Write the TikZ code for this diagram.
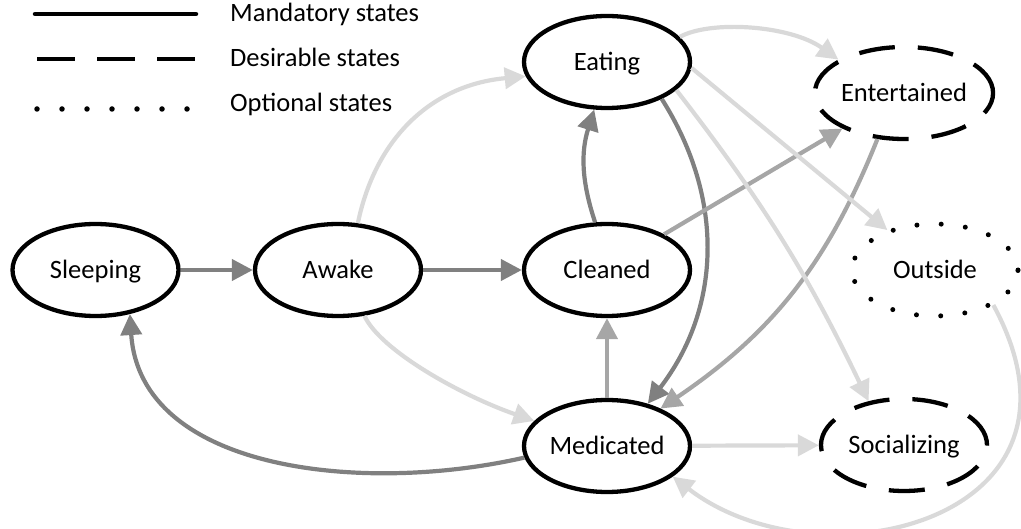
\documentclass[tikz,border=0pt]{standalone}
\usepackage{fontspec}
\setmainfont{Carlito}
\usetikzlibrary{shapes.geometric,arrows.meta}
\definecolor{cdark}{HTML}{808080}
\definecolor{cmid}{HTML}{A6A6A6}
\definecolor{clight}{HTML}{D9D9D9}
\begin{document}
\begin{tikzpicture}[x=1pt,y=1pt,
  state/.style={ellipse, draw, line width=4.3pt, minimum width=166pt, minimum height=92pt,
    inner sep=0pt, outer sep=2.15pt, font=\fontsize{26.5}{30}\selectfont,
    text height=16.7pt, text depth=0pt},
  desir/.style={state, dash pattern=on 36pt off 23pt},
  optn/.style={state, line cap=round, dash pattern=on 0pt off 24.3pt, line width=5pt},
  conn/.style={line width=4.2pt, -{Triangle[length=21pt,width=21pt]}},
  dk/.style={conn, draw=cdark},
  md/.style={conn, draw=cmid},
  lt/.style={conn, draw=clight},
  legtext/.style={anchor=base west, inner sep=0pt, font=\fontsize{26.5}{30}\selectfont}
]
\useasboundingbox (0,0) rectangle (1021,-529);

% legend
\draw[line width=4.5pt, line cap=round] (35,-14) -- (196,-14);
\draw[line width=4.5pt, dash pattern=on 38pt off 22pt] (37,-59) -- (195,-59);
\draw[line width=5.5pt, line cap=round, dash pattern=on 0pt off 25pt] (37,-109) -- (190,-109);
\node[legtext] (lmand) at (230,-22) {Mandatory states};
\node[legtext] (ldes) at (230,-67) {Desirable states};
\node[legtext] (lopt) at (230,-112) {Optional states};

% states
\node[state] (sleeping) at (95.5,-270) {Sleeping};
\node[state] (awake) at (338,-270) {Awake};
\node[state] (cleaned) at (607,-270) {Cleaned};
\node[state] (eating) at (607,-62) {Eating};
\node[state] (medicated) at (607,-446) {Medicated};
\node[desir] (entertained) at (904,-93) {Entertained};
\node[optn] (outside) at (935,-270) {Outside};
\node[desir] (socializing) at (904,-445) {Socializing};

% dark connectors
\draw[dk] (sleeping) -- (awake);
\draw[dk] (awake) -- (cleaned);
\draw[dk] (cleaned.104) to[bend left=18] (eating.-105);
\draw[dk] (eating.-34) to[bend left=35] (medicated.46);
\draw[dk] (medicated.188) .. controls (360,-495) and (140,-470) .. (sleeping.-52);

% medium connectors
\draw[md] (medicated) -- (cleaned);
\draw[md] (cleaned.32) -- (entertained.210);
\draw[md] (entertained.240) to[bend left=17] (medicated.35);

% light connectors
\draw[lt] (awake.67) .. controls (375,-140) and (430,-85) .. (eating.190);
\draw[lt] (awake.-60) .. controls (380,-350) and (460,-395) .. (medicated.161);
\draw[lt] (eating.19) .. controls (710,-20) and (790,-25) .. (entertained.153);
\draw[lt] (eating.-4) -- (outside.140);
\draw[lt] (eating.-22) to[bend left=6] (socializing.129);
\draw[lt] (medicated) -- (socializing);
\draw[lt] (outside.-31) .. controls (1110,-520) and (820,-590) .. (medicated.-25);
\end{tikzpicture}
\end{document}
